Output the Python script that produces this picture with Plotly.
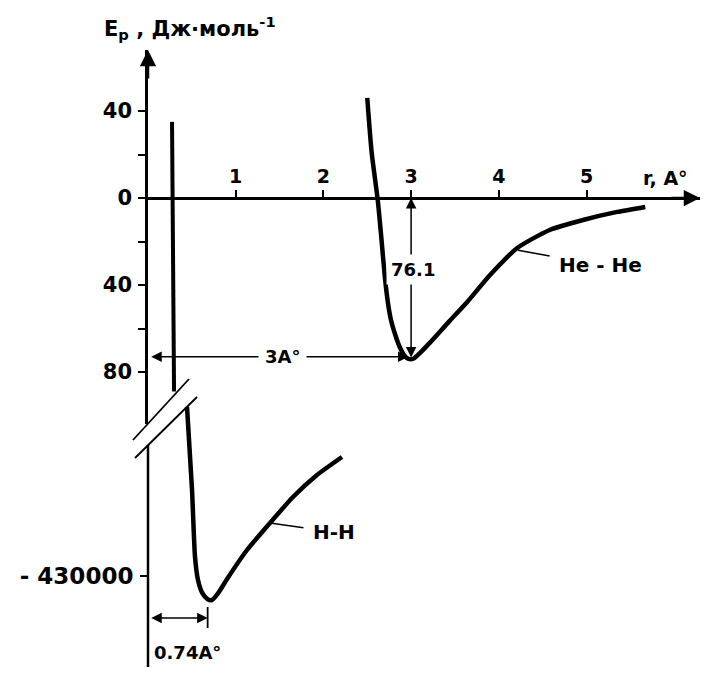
import plotly.graph_objects as go

# ---- data ----
# He-He potential curve (r in Å, E in J/mol)
he_r = [2.50, 2.55, 2.62, 2.66, 2.70, 2.735, 2.77, 2.82, 2.87, 2.93, 2.97, 3.03, 3.10, 3.215, 3.44, 3.64, 3.90, 4.21, 4.58, 4.96, 5.35, 5.67]
he_e = [46, 21, -1, -18, -36, -48, -56, -63, -68.5, -72.8, -74, -73.8, -71.3, -66.5, -56.5, -47.8, -35.4, -23, -14.7, -10.1, -6.4, -4.1]

# H-H curve, part above the axis break
hh_up_r = [0.274, 0.297]
hh_up_e = [35, -89]

# H-H curve, part below the axis break (J/mol)
hh_lo_r = [0.445, 0.502, 0.536, 0.57, 0.62, 0.68, 0.73, 0.80, 0.90, 1.129, 1.391, 1.653, 1.927, 2.212]
hh_lo_e = [-387750, -408500, -425250, -431000, -434300, -435800, -436000, -434300, -430800, -423500, -416750, -410250, -404750, -400250]

x_ticks = [1, 2, 3, 4, 5]
y_ticks = [40, 20, 0, -20, -40, -60, -80]
y_ticktext = ["40", "", "0", "", "40", "", "80"]
y2_ticks = [-430000]
y2_ticktext = ["- 430000"]

he_depth = 76.1
he_r0 = 3.0
hh_r0 = 0.74

FONT = "DejaVu Sans"
OFF = 8  # page body margin
W, H = 723 - 2 * OFF, 694 - 2 * OFF
ML, MT = 148 - OFF, 50 - OFF
MR = W - (700 - OFF)
MB = H - (667 - OFF)
PW = W - ML - MR
PH = H - MT - MB


def py(p):  # reference pixel row -> paper fraction
    return (H - MB - (p - OFF)) / PH


def px(p):  # reference pixel column -> paper fraction
    return ((p - OFF) - ML) / PW


fig = go.Figure()
fig.add_trace(go.Scatter(x=he_r, y=he_e, mode="lines", line=dict(color="black", width=4.5, shape="spline", smoothing=0.6),
                         xaxis="x", yaxis="y", hoverinfo="skip"))
fig.add_trace(go.Scatter(x=hh_up_r, y=hh_up_e, mode="lines", line=dict(color="black", width=4),
                         xaxis="x", yaxis="y", hoverinfo="skip"))
fig.add_trace(go.Scatter(x=hh_lo_r, y=hh_lo_e, mode="lines", line=dict(color="black", width=4.5, shape="spline", smoothing=0.6),
                         xaxis="x", yaxis="y2", hoverinfo="skip"))

axfont = dict(family=FONT, size=21, color="black", weight="bold")

fig.update_layout(
    width=W, height=H,
    margin=dict(l=ML, r=MR, t=MT, b=MB),
    paper_bgcolor="white", plot_bgcolor="rgba(0,0,0,0)",
    showlegend=False,
    font=dict(family=FONT, color="black"),
    xaxis=dict(range=[0, PW / 87.7], anchor="free", position=py(198), side="top",
               showline=True, linecolor="black", linewidth=2.5, showgrid=False, zeroline=False,
               tickmode="array", tickvals=x_ticks, ticks="outside", ticklen=7, tickwidth=2,
               tickcolor="black", tickfont=dict(family=FONT, size=19, color="black", weight="bold"),
               ticklabelstandoff=0),
    yaxis=dict(domain=[py(424), 1], range=[(198 - 424) / 2.175, (198 - 50) / 2.175], anchor="x",
               showline=True, linecolor="black", linewidth=2.5, showgrid=False, zeroline=False,
               tickmode="array", tickvals=y_ticks, ticktext=y_ticktext, ticks="outside", ticklen=7,
               tickwidth=2, tickcolor="black", tickfont=axfont, ticklabelstandoff=2),
    yaxis2=dict(domain=[0, py(400)], range=[-430000 - (667 - 576) * 250, -430000 + (576 - 400) * 250], anchor="x",
                showline=False, showgrid=False, zeroline=False,
                tickmode="array", tickvals=y2_ticks, ticktext=y2_ticktext, ticks="outside", ticklen=7,
                tickwidth=2, tickcolor="black", tickfont=dict(axfont, size=23), ticklabelstandoff=2),
)

shapes = [
    # lower part of the y axis (below the break)
    dict(type="line", xref="paper", yref="paper", x0=0, x1=0, y0=0, y1=py(445), line=dict(color="black", width=2.5)),
    # break marks
    dict(type="line", xref="paper", yref="paper", x0=px(133), y0=py(440), x1=px(189), y1=py(379), line=dict(color="black", width=1.8)),
    dict(type="line", xref="paper", yref="paper", x0=px(135), y0=py(458), x1=px(197), y1=py(397), line=dict(color="black", width=1.8)),
    # short vertical mark at r0 of H-H
    dict(type="line", xref="x", yref="y2", x0=0.68, x1=0.68, y0=-437750, y1=-443000, line=dict(color="black", width=1.8)),
]
fig.update_layout(shapes=shapes)

bold = dict(family=FONT, color="black", weight="bold")
ann = []
# axis arrows
ann.append(dict(xref="paper", yref="paper", x=0, y=1, ax=0, ay=30, text="", showarrow=True,
                arrowhead=2, arrowsize=1.3, arrowwidth=2.5, arrowcolor="black"))
ann.append(dict(xref="paper", yref="paper", x=1, y=py(198), ax=-30, ay=0, text="", showarrow=True,
                arrowhead=2, arrowsize=1.3, arrowwidth=2.5, arrowcolor="black"))
# axis titles
ann.append(dict(xref="paper", yref="paper", x=px(102), y=py(28), xanchor="left", yanchor="middle",
                text="E<sub>p</sub> , Дж·моль<sup>-1</sup>", showarrow=False, font=dict(bold, size=21)))
ann.append(dict(xref="paper", yref="paper", x=px(641), y=py(178), xanchor="left", yanchor="middle",
                text="r, A°", showarrow=False, font=dict(bold, size=19)))
# 76.1 double arrow
ann.append(dict(xref="x", yref="y", axref="x", ayref="y", x=he_r0, y=0, ax=he_r0, ay=-74,
                text="", showarrow=True, arrowhead=2, arrowside="end+start", arrowsize=1.4,
                arrowwidth=1.5, arrowcolor="black"))
ann.append(dict(xref="x", yref="y", x=he_r0 + 0.02, y=-33, text=str(he_depth), showarrow=False,
                bgcolor="white", borderpad=4, font=dict(bold, size=18)))
# 3 A° double arrow
ann.append(dict(xref="x", yref="y", axref="x", ayref="y", x=2.97, y=-73, ax=0.02, ay=-73,
                text="", showarrow=True, arrowhead=2, arrowside="end+start", arrowsize=1.4,
                arrowwidth=1.5, arrowcolor="black"))
ann.append(dict(xref="x", yref="y", x=1.53, y=-73, text="3A°", showarrow=False,
                bgcolor="white", borderpad=6, font=dict(bold, size=18)))
# 0.74 A° double arrow
ann.append(dict(xref="x", yref="y2", axref="x", ayref="y2", x=0.68, y=-440500, ax=0.02, ay=-440500,
                text="", showarrow=True, arrowhead=2, arrowside="end+start", arrowsize=1.4,
                arrowwidth=1.5, arrowcolor="black"))
ann.append(dict(xref="x", yref="y2", x=0.05, y=-449000, xanchor="left", text=f"{hh_r0}A°", showarrow=False,
                font=dict(bold, size=18)))
# curve labels
ann.append(dict(xref="x", yref="y", axref="x", ayref="y", x=4.22, y=-24, ax=5.16, ay=-31,
                text="He - He", showarrow=True, arrowhead=0, arrowwidth=1.5, arrowcolor="black",
                startstandoff=8, font=dict(bold, size=20)))
ann.append(dict(xref="x", yref="y2", axref="x", ayref="y2", x=1.39, y=-416750, ax=2.12, ay=-419000,
                text="H-H", showarrow=True, arrowhead=0, arrowwidth=1.5, arrowcolor="black",
                startstandoff=8, font=dict(bold, size=20)))
fig.update_layout(annotations=ann)

fig.write_html("out.html")
